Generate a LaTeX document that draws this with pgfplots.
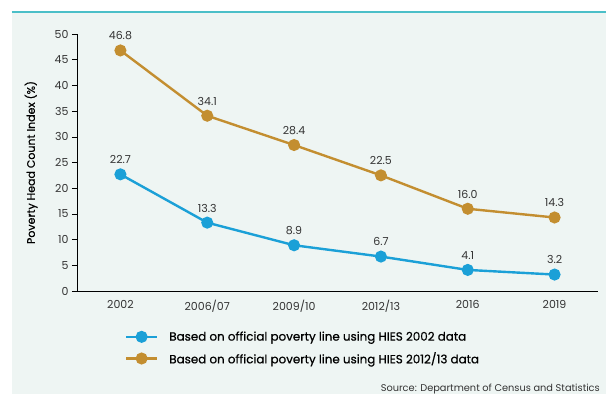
\documentclass[border=0pt]{standalone}
\usepackage{pgfplots}
\pgfplotsset{compat=1.18}
\usepackage{fontspec}
\setmainfont{Poppins}
\definecolor{bg}{HTML}{EEF5F3}
\definecolor{teal}{HTML}{4BBFC8}
\definecolor{cblue}{HTML}{1BA0D7}
\definecolor{cgold}{HTML}{C38E30}
\definecolor{txt}{HTML}{333333}
\begin{document}
\begin{tikzpicture}[x=1pt,y=1pt]
\useasboundingbox (-77,-103) rectangle (529,291);
\fill[white] (-77,-103) rectangle (529,291);
\fill[bg] (-65,-103) rectangle (529,279);
\draw[teal, line width=2pt] (-65,279) -- (529,279);
\begin{axis}[
  at={(0,0)}, anchor=south west,
  scale only axis, width=521pt, height=257pt,
  xmin=-0.5, xmax=5.5, ymin=0, ymax=50,
  axis lines*=left,
  axis line style={black, line width=0.6pt},
  xtick=data,
  xticklabels={2002,2006/07,2009/10,2012/13,2016,2019},
  xtick style={draw=none},
  ytick={0,5,...,50},
  ytick style={black, line width=0.6pt},
  tick align=outside,
  major tick length=5pt,
  ticklabel style={font=\fontsize{11}{13}\selectfont, text=txt},
  /pgf/number format/assume math mode=true,
  xticklabel style={yshift=-1pt},
  ylabel={Poverty Head Count Index (\%)},
  every axis y label/.style={at={(axis description cs:-0.088,0.5)}, rotate=90, anchor=center},
  ylabel style={font=\fontsize{11}{12}\selectfont\addfontfeatures{FakeBold=0.6}, text=black},
  nodes near coords,
  nodes near coords style={font=\fontsize{11}{13}\selectfont, text=txt, anchor=south, yshift=6pt,
    /pgf/number format/.cd, fixed, fixed zerofill, precision=1},
  legend style={at={(axis description cs:0.092,-0.150)}, anchor=north west, draw=none, fill=none,
    inner sep=0pt, outer sep=0pt,
    font=\fontsize{11.9}{13}\selectfont\addfontfeatures{FakeBold=0.6},
    row sep=6pt, cells={anchor=west},
    /tikz/every odd column/.append style={column sep=9pt}},
  legend cell align=left,
  legend image code/.code={
    \draw[#1, mark=none] (0pt,0pt) -- (31pt,0pt);
    \draw[#1, only marks] plot coordinates {(15.5pt,0pt)};
  },
]
\addplot[cblue, line width=2.4pt, mark=*, mark size=4.8pt, mark options={solid, draw=cblue, fill=cblue}]
  coordinates {(0,22.7) (1,13.3) (2,8.9) (3,6.7) (4,4.1) (5,3.2)};
\addlegendentry{Based on official poverty line using HIES 2002 data}
\addplot[cgold, line width=2.4pt, mark=*, mark size=4.8pt, mark options={solid, draw=cgold, fill=cgold}]
  coordinates {(0,46.8) (1,34.1) (2,28.4) (3,22.5) (4,16.0) (5,14.3)};
\addlegendentry{Based on official poverty line using HIES 2012/13 data}
\end{axis}
\node[anchor=base east, inner sep=0pt, font=\fontsize{9.8}{12}\selectfont, text=txt] at (523,-100) {Source: Department of Census and Statistics};
\end{tikzpicture}
\end{document}
